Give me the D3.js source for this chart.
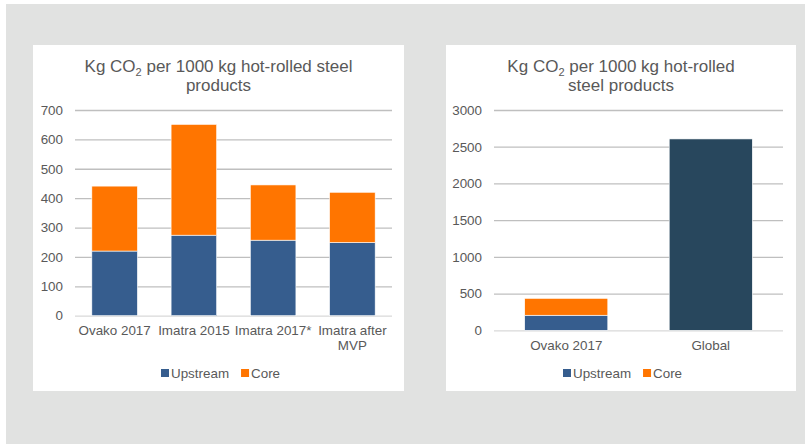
<!DOCTYPE html>
<html lang="en">
<head>
<meta charset="utf-8">
<title>Kg CO2 per 1000 kg hot-rolled steel products</title>
<script src="https://cdn.jsdelivr.net/npm/d3@7"></script>
<style>
  body { margin: 0; background: #fff; }
  svg { display: block; font-family: "Liberation Sans", Arial, sans-serif; }
  .tick text { fill: #595959; font-size: 13.4px; }
  .title { fill: #595959; font-size: 17px; }
  .legend text { fill: #595959; font-size: 13.4px; }
</style>
</head>
<body>
<script>
// data
var plantCats = ["Ovako 2017", "Imatra 2015", "Imatra 2017*", "Imatra after MVP"];
var plantUpstream = [220, 274, 257, 249];
var plantCore = [221, 377, 188, 171];
var plantTicks = [0, 100, 200, 300, 400, 500, 600, 700];

var globalCats = ["Ovako 2017", "Global"];
var globalUpstream = [205, 2606];
var globalCore = [230, 0];
var globalTicks = [0, 500, 1000, 1500, 2000, 2500, 3000];

var seriesNames = ["Upstream", "Core"];

var W = 805, H = 444;
var colUp = "#365d8e", colCore = "#ff7500", colGlobal = "#28475d";

var svg = d3.select("body").append("svg")
  .attr("width", W).attr("height", H);

// grey frame
svg.append("rect").attr("x", 6).attr("y", 4)
  .attr("width", W - 6).attr("height", H - 4).attr("fill", "#e1e2e1");

function drawPanel(p) {
  var g = svg.append("g");
  g.append("rect").attr("x", p.x0).attr("y", 45)
    .attr("width", p.x1 - p.x0).attr("height", 346).attr("fill", "#fff");

  var cx = (p.x0 + p.x1) / 2;
  var t = g.append("text").attr("class", "title").attr("text-anchor", "middle");
  p.title.forEach(function(line, i) {
    var ts = t.append("tspan").attr("x", cx).attr("y", 72 + i * 19);
    if (line.indexOf("CO2") >= 0) {
      var parts = line.split("CO2");
      ts.append("tspan").text(parts[0] + "CO");
      ts.append("tspan").attr("dy", 4).attr("font-size", "11px").text("2");
      ts.append("tspan").attr("dy", -4).text(parts[1]);
    } else {
      ts.text(line);
    }
  });

  var x = d3.scaleBand().domain(p.cats).range([p.gx0, p.gx1])
    .paddingInner(0.425).paddingOuter(0.2125);
  var y = d3.scaleLinear().domain([0, p.max]).range([p.y0, 110]);

  // gridlines
  g.append("g").attr("transform", "translate(" + p.gx0 + ",0)")
    .call(d3.axisLeft(y).tickValues(p.ticks).tickFormat(d3.format("d"))
      .tickSize(-(p.gx1 - p.gx0)).tickPadding(12))
    .call(function(a) {
      a.select(".domain").remove();
      a.selectAll(".tick line").attr("stroke", function(d) { return d === 0 ? "#d9d9d9" : "#bfbfbf"; })
        .attr("stroke-width", 1.3);
      a.selectAll(".tick text").attr("font-family", null).attr("font-size", null);
    });

  var stack = d3.stack().keys([0, 1])
    .value(function(d, k) { return k === 0 ? d.up : d.core; });
  var rows = p.cats.map(function(c, i) { return { cat: c, up: p.up[i], core: p.core[i] }; });
  var layers = stack(rows);

  layers.forEach(function(layer, k) {
    g.selectAll(null).data(layer).enter().append("rect")
      .attr("x", function(d) { return x(d.data.cat); })
      .attr("width", x.bandwidth())
      .attr("y", function(d) { return y(d[1]); })
      .attr("height", function(d) { return y(d[0]) - y(d[1]); })
      .attr("fill", function(d) {
        if (k === 1) return colCore;
        return d.data.cat === "Global" ? colGlobal : colUp;
      })
      .attr("stroke", "#fff").attr("stroke-width", 0.6)
      .attr("display", function(d) { return d[1] - d[0] > 0 ? null : "none"; });
  });

  // category labels
  var xa = g.append("g").attr("transform", "translate(0," + p.y0 + ")")
    .call(d3.axisBottom(x).tickSize(0).tickPadding(10));
  xa.select(".domain").remove();
  xa.selectAll(".tick text").attr("font-family", null).attr("font-size", null)
    .each(function(d) {
      if (p.wrap && d === "Imatra after MVP") {
        var el = d3.select(this);
        el.text(null);
        el.append("tspan").attr("x", 0).attr("dy", "0.71em").text("Imatra after");
        el.append("tspan").attr("x", 0).attr("dy", "1.12em").text("MVP");
      }
    });

  // legend
  var lg = g.append("g").attr("class", "legend")
    .attr("transform", "translate(" + p.legX + ",373)");
  var lx = 0;
  seriesNames.forEach(function(n, i) {
    lg.append("rect").attr("x", lx).attr("y", -4).attr("width", 8).attr("height", 8)
      .attr("fill", i === 0 ? colUp : colCore);
    var tx = lg.append("text").attr("x", lx + 10).attr("y", 4.8).text(n);
    lx += 10 + tx.node().getComputedTextLength() + 12;
  });
}

drawPanel({
  x0: 33, x1: 404, gx0: 75, gx1: 392, y0: 315.7, max: 700,
  cats: plantCats, up: plantUpstream, core: plantCore, ticks: plantTicks,
  title: ["Kg CO2 per 1000 kg hot-rolled steel", "products"],
  wrap: true, legX: 161
});

drawPanel({
  x0: 446, x1: 796, gx0: 494, gx1: 783, y0: 330.3, max: 3000,
  cats: globalCats, up: globalUpstream, core: globalCore, ticks: globalTicks,
  title: ["Kg CO2 per 1000 kg hot-rolled", "steel products"],
  wrap: false, legX: 563
});
</script>
</body>
</html>
